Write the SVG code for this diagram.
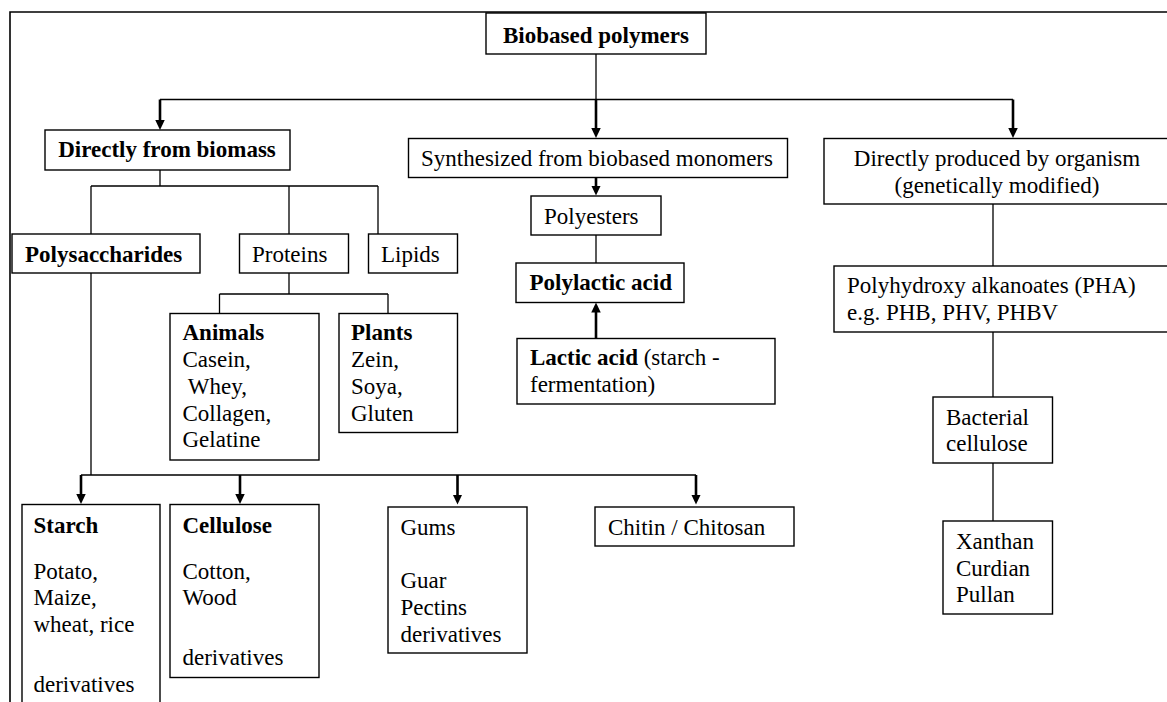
<svg xmlns="http://www.w3.org/2000/svg" width="1167" height="702" viewBox="0 0 1167 702">
  <style>
    .box { fill: #ffffff; stroke: #000000; stroke-width: 1.4; }
    .t { font-family: "Liberation Serif", "Times New Roman", serif; font-size: 23px; fill: #000000; }
    .b { font-weight: bold; }
    .mid { text-anchor: middle; }
    .wire { fill: none; stroke: #000000; stroke-width: 1.3; }
    .arrow { fill: none; stroke: #000000; stroke-width: 2.6; marker-end: url(#head); }
    .frame { fill: none; stroke: #000000; stroke-width: 1.6; }
  </style>
  <defs>
    <marker id="head" markerUnits="userSpaceOnUse" markerWidth="10" markerHeight="10" refX="4" refY="4.75" orient="auto">
      <path d="M0,0 L10,4.75 L0,9.5 Z" fill="#000000"/>
    </marker>
  </defs>

  <rect x="0" y="0" width="1167" height="702" fill="#ffffff"/>
  <path class="frame" d="M10,702 L10,12 L1167,12"/>

  <!-- connectors -->
  <g id="connectors">
    <!-- root fan-out -->
    <path class="wire" d="M596,54 L596,99.5"/>
    <path class="wire" d="M160,99.5 L1013,99.5"/>
    <path class="arrow" d="M160,99.5 L160,124"/>
    <path class="arrow" d="M596,99.5 L596,132"/>
    <path class="arrow" d="M1013,99.5 L1013,132"/>
    <!-- biomass branch -->
    <path class="wire" d="M160,170 L160,186 M91,186 L378,186 M91,186 L91,234 M289,186 L289,234 M378,186 L378,234"/>
    <!-- proteins -->
    <path class="wire" d="M289,273 L289,294 M219.5,294 L388,294 M219.5,294 L219.5,313 M388,294 L388,313"/>
    <!-- polysaccharides -->
    <path class="wire" d="M91,273 L91,475 M81,475 L696,475"/>
    <path class="arrow" d="M81,475 L81,498"/>
    <path class="arrow" d="M240,475 L240,498"/>
    <path class="arrow" d="M457.5,475 L457.5,498.5"/>
    <path class="arrow" d="M696,475 L696,498.5"/>
    <!-- monomers column -->
    <path class="arrow" d="M596,177.5 L596,189.5"/>
    <path class="wire" d="M596,235 L596,263"/>
    <path class="arrow" d="M596,338 L596,308.5"/>
    <!-- organism column -->
    <path class="wire" d="M993,204 L993,266 M993,332 L993,397 M993,463 L993,521"/>
  </g>

  <g id="biobased-polymers">
    <rect class="box" x="486" y="13" width="220" height="41"/>
    <text class="t b mid" x="596" y="43">Biobased polymers</text>
  </g>

  <g id="directly-from-biomass">
    <rect class="box" x="45" y="130" width="245" height="40"/>
    <text class="t b mid" x="167" y="157">Directly from biomass</text>
  </g>

  <g id="synthesized">
    <rect class="box" x="408.5" y="138.5" width="379" height="39"/>
    <text class="t" x="421" y="166">Synthesized from biobased monomers</text>
  </g>

  <g id="organism">
    <rect class="box" x="824" y="138.5" width="346" height="65.5"/>
    <text class="t mid" x="997" y="166">Directly produced by organism</text>
    <text class="t mid" x="997" y="193">(genetically modified)</text>
  </g>

  <g id="polysaccharides">
    <rect class="box" x="12" y="234" width="188" height="39"/>
    <text class="t b" x="25" y="262">Polysaccharides</text>
  </g>

  <g id="proteins">
    <rect class="box" x="239.5" y="234" width="109" height="39"/>
    <text class="t" x="252" y="262">Proteins</text>
  </g>

  <g id="lipids">
    <rect class="box" x="368.5" y="234" width="89" height="39"/>
    <text class="t" x="381" y="262">Lipids</text>
  </g>

  <g id="animals">
    <rect class="box" x="170" y="313.5" width="149" height="146.5"/>
    <text class="t b" x="182.5" y="340">Animals</text>
    <text class="t" x="182.5" y="367">Casein,</text>
    <text class="t" x="182.5" y="394" xml:space="preserve"> Whey,</text>
    <text class="t" x="182.5" y="420.5">Collagen,</text>
    <text class="t" x="182.5" y="447">Gelatine</text>
  </g>

  <g id="plants">
    <rect class="box" x="339" y="313.5" width="118.5" height="119"/>
    <text class="t b" x="351" y="340">Plants</text>
    <text class="t" x="351" y="367">Zein,</text>
    <text class="t" x="351" y="394">Soya,</text>
    <text class="t" x="351" y="420.5">Gluten</text>
  </g>

  <g id="polyesters">
    <rect class="box" x="531" y="196" width="130" height="39"/>
    <text class="t" x="544" y="224">Polyesters</text>
  </g>

  <g id="polylactic-acid">
    <rect class="box" x="516" y="263" width="168" height="39.5"/>
    <text class="t b" x="529.5" y="290">Polylactic acid</text>
  </g>

  <g id="lactic-acid">
    <rect class="box" x="517" y="338.5" width="258" height="65.5"/>
    <text class="t" x="530" y="365"><tspan class="b">Lactic acid</tspan> (starch -</text>
    <text class="t" x="530" y="392">fermentation)</text>
  </g>

  <g id="pha">
    <rect class="box" x="834" y="266" width="336" height="66"/>
    <text class="t" x="847" y="293">Polyhydroxy alkanoates (PHA)</text>
    <text class="t" x="847" y="320">e.g. PHB, PHV, PHBV</text>
  </g>

  <g id="bacterial-cellulose">
    <rect class="box" x="933" y="397" width="119.5" height="66"/>
    <text class="t" x="946" y="425">Bacterial</text>
    <text class="t" x="946" y="451">cellulose</text>
  </g>

  <g id="xanthan">
    <rect class="box" x="943" y="521" width="109.5" height="93"/>
    <text class="t" x="956" y="548.5">Xanthan</text>
    <text class="t" x="956" y="576">Curdian</text>
    <text class="t" x="956" y="602">Pullan</text>
  </g>

  <g id="starch">
    <rect class="box" x="22" y="504.5" width="138" height="220"/>
    <text class="t b" x="33.5" y="532.5">Starch</text>
    <text class="t" x="33.5" y="578.5">Potato,</text>
    <text class="t" x="33.5" y="605">Maize,</text>
    <text class="t" x="33.5" y="632">wheat, rice</text>
    <text class="t" x="33.5" y="692">derivatives</text>
  </g>

  <g id="cellulose">
    <rect class="box" x="170" y="504.5" width="149" height="173"/>
    <text class="t b" x="182.5" y="532.5">Cellulose</text>
    <text class="t" x="182.5" y="578.5">Cotton,</text>
    <text class="t" x="182.5" y="605">Wood</text>
    <text class="t" x="182.5" y="665">derivatives</text>
  </g>

  <g id="gums">
    <rect class="box" x="388" y="507" width="139" height="146"/>
    <text class="t" x="400.5" y="534.5">Gums</text>
    <text class="t" x="400.5" y="588">Guar</text>
    <text class="t" x="400.5" y="615">Pectins</text>
    <text class="t" x="400.5" y="642">derivatives</text>
  </g>

  <g id="chitin">
    <rect class="box" x="595" y="507" width="199" height="39"/>
    <text class="t" x="608" y="534.5">Chitin / Chitosan</text>
  </g>
</svg>
